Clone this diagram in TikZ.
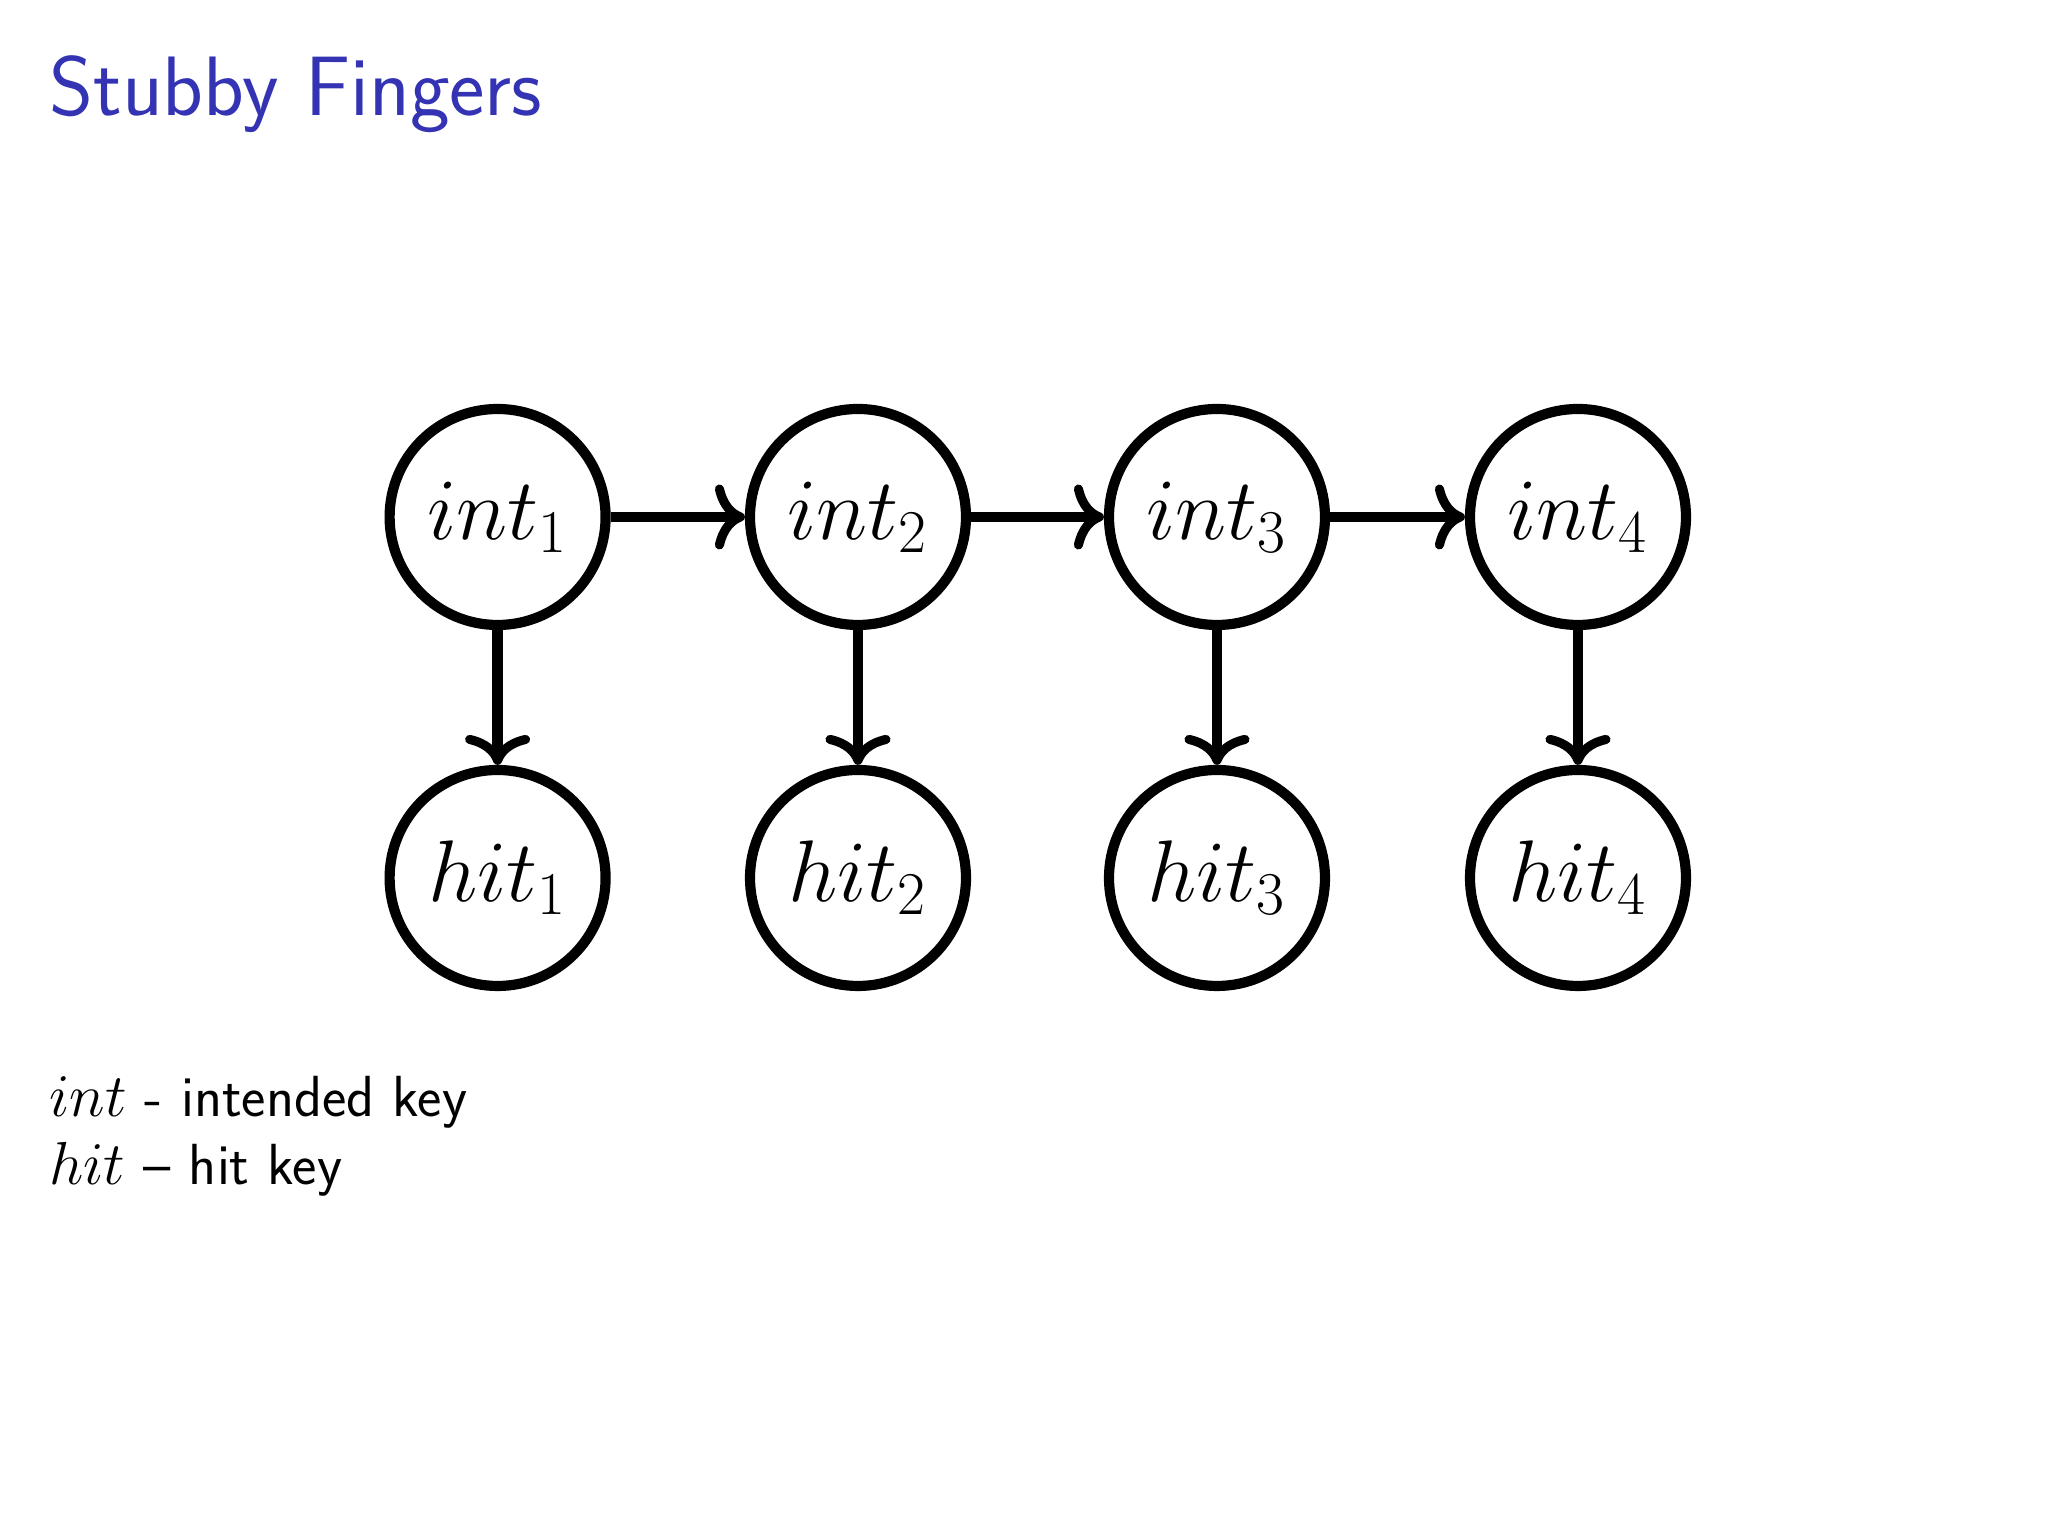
\documentclass[tikz,border=0pt]{standalone}
\usetikzlibrary{arrows.meta}
\definecolor{titleblue}{RGB}{51,51,179}
\begin{document}
\begin{tikzpicture}[
  circ/.style={draw,circle,line width=2.9pt,minimum size=2.16cm,inner sep=0pt,font=\fontsize{23.5}{28}\selectfont},
  conn/.style={line width=3pt,-{To[length=3mm,width=6.5mm,line width=2.6pt]}}]
\useasboundingbox (0,0) rectangle (20.48,15.36);
\node[anchor=west,text=titleblue,font=\sffamily\fontsize{24}{28}\selectfont] (title) at (0.37,14.42) {Stubby Fingers};
\foreach \i/\x in {1/4.976,2/8.58,3/12.17,4/15.78}{
  \node[circ] (int\i) at (\x,10.19) {$int_{\i}$};
  \node[circ] (hit\i) at (\x,6.58) {$hit_{\i}$};
  \draw[conn] (int\i) -- (hit\i);
}
\foreach \a/\b in {1/2,2/3,3/4}{ \draw[conn] (int\a) -- (int\b); }
\node[anchor=west,font=\sffamily\fontsize{16.5}{20}\selectfont] (l1) at (0.37,4.34) {$int$ - intended key};
\node[anchor=west,font=\sffamily\fontsize{16.5}{20}\selectfont] (l2) at (0.37,3.67) {$hit$ -- hit key};
\end{tikzpicture}
\end{document}
